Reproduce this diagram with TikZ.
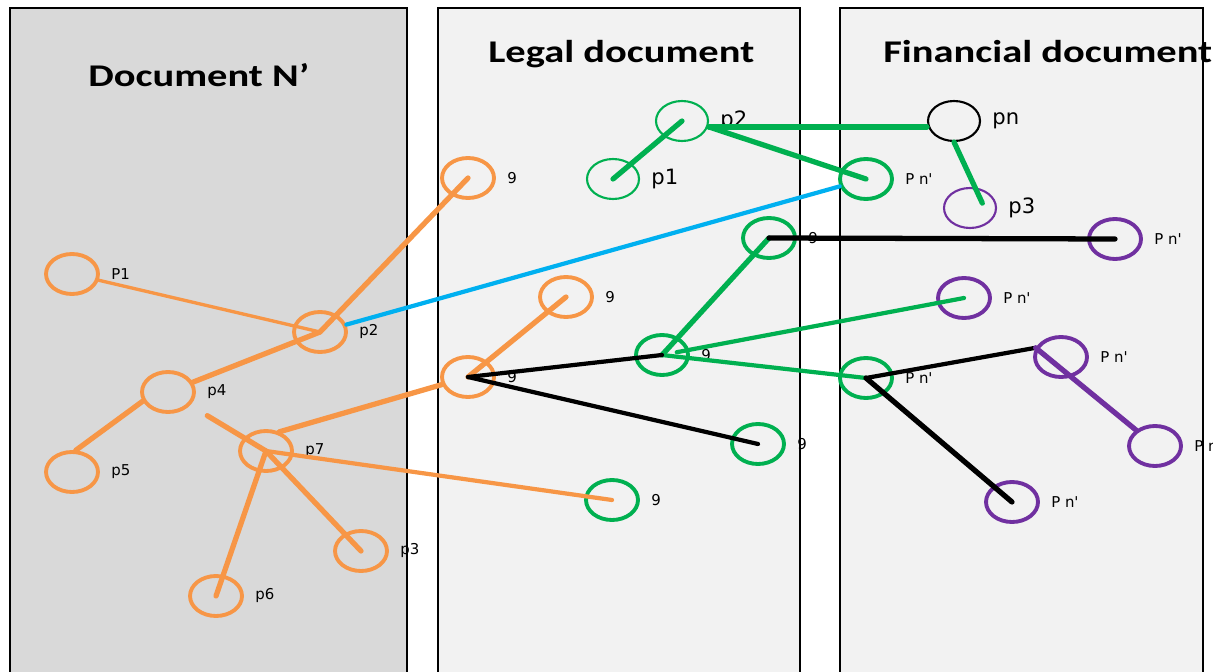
\documentclass[tikz,border=0pt]{standalone}
\usepackage{fontspec}
\setmainfont{DejaVu Sans}
\newfontfamily\titlefont{Carlito}
\usetikzlibrary{shapes.geometric}

\definecolor{orng}{RGB}{247,150,70}
\definecolor{grn}{RGB}{0,176,80}
\definecolor{blu}{RGB}{0,176,240}
\definecolor{purp}{RGB}{112,48,160}
\definecolor{panelA}{RGB}{217,217,217}
\definecolor{panelB}{RGB}{242,242,242}
\newcommand{\pnq}{P n\textquotesingle}
\newcommand{\ttltext}[1]{\scalebox{1.28}[1]{#1}}

\begin{document}
\begin{tikzpicture}[x=0.02cm, y=-0.02cm, line cap=round,
  pnl/.style={draw=black, line width=1.4pt},
  ttl/.style={font=\titlefont\bfseries\fontsize{18}{22}\selectfont, anchor=base west, inner sep=0pt},
  pnode/.style={ellipse, draw, line width=2.2pt, minimum width=1.04cm, minimum height=0.8cm, inner sep=0pt},
  thn/.style={pnode, line width=1.2pt},
  sm/.style={font=\fontsize{8.5}{10}\selectfont, text=black, inner sep=0pt},
  big/.style={font=\fontsize{12}{14}\selectfont, text=black, inner sep=0pt},
  label distance=0.22cm,
  edge1/.style={line width=1.9pt},
  edge2/.style={line width=2.4pt},
  edge3/.style={line width=3pt}]

\useasboundingbox (0,0) rectangle (1213,672);

\draw[pnl, fill=panelA] (10,8) rectangle (407,700);
\draw[pnl, fill=panelB] (438,8) rectangle (800,700);
\draw[pnl, fill=panelB] (840,8) rectangle (1203,700);

\node[ttl] (t1) at (88,87) {\ttltext{Document N’}};
\node[ttl] (t2) at (488,63) {\ttltext{Legal document}};
\node[ttl] (t3) at (883,63) {\ttltext{Financial document}};

\node[pnode, draw=orng, label={[sm]right:P1}] (a1) at (72,274) {};
\node[pnode, draw=orng, label={[sm]right:p2}] (a2) at (320,332) {};
\node[pnode, draw=orng, label={[sm]right:p4}] (a4) at (168,392) {};
\node[pnode, draw=orng, label={[sm]right:p5}] (a5) at (72,472) {};
\node[pnode, draw=orng, label={[sm]right:p7}] (a7) at (266,451) {};
\node[pnode, draw=orng, label={[sm]right:p3}] (a3) at (361,551) {};
\node[pnode, draw=orng, label={[sm]right:p6}] (a6) at (216,596) {};

\node[pnode, draw=orng, label={[sm]right:9}] (o1) at (468,178) {};
\node[pnode, draw=orng, label={[sm]right:9}] (o2) at (566,297) {};
\node[pnode, draw=orng, label={[sm]right:9}] (o3) at (468,377) {};

\node[thn, draw=grn, label={[big]right:p2}] (gp2) at (682,121) {};
\node[thn, draw=grn, label={[big]right:p1}] (gp1) at (613,179) {};
\node[pnode, draw=grn, label={[sm]right:9}] (g1) at (769,238) {};
\node[pnode, draw=grn, label={[sm]right:9}] (g2) at (662,355) {};
\node[pnode, draw=grn, label={[sm]right:9}] (g3) at (758,444) {};
\node[pnode, draw=grn, label={[sm]right:9}] (g4) at (612,500) {};

\node[thn, draw=black, label={[big]right:pn}] (pn) at (954,121) {};
\node[pnode, draw=grn, label={[sm]right:\pnq}] (f1) at (866,179) {};
\node[thn, draw=purp, label={[big]right:p3}] (fp3) at (970,208) {};
\node[pnode, draw=purp, label={[sm]right:\pnq}] (f2) at (1115,239) {};
\node[pnode, draw=purp, label={[sm]right:\pnq}] (f3) at (964,298) {};
\node[pnode, draw=grn, label={[sm]right:\pnq}] (f4) at (866,378) {};
\node[pnode, draw=purp, label={[sm]right:\pnq}] (f5) at (1061,357) {};
\node[pnode, draw=purp, label={[sm]right:\pnq}] (f6) at (1155,446) {};
\node[pnode, draw=purp, label={[sm]right:\pnq}] (f7) at (1012,502) {};

\draw[edge1, orng] (a1) -- (a2.center);
\draw[edge3, orng] (a2.center) -- (o1.center);
\draw[edge3, orng] (a2.center) -- (a4);
\draw[edge3, orng] (a4.200) -- (a5.80);
\draw[edge3, orng, shorten <=0.4cm] (a4) -- (a7.center) -- (a3.center);
\draw[edge3, orng] (a7.55) -- (o3);
\draw[edge2, orng] (a7.center) -- (g4.center);
\draw[edge3, orng] (a7.center) -- (a6.center);
\draw[edge3, orng] (o3.center) -- (o2.center);

\draw[edge2, blu] (a2) -- (f1);

\draw[edge3, grn] (gp1.center) -- (gp2.center);
\draw[edge3, grn] ([yshift=-3.4pt]gp2.east) -- ([yshift=-3.4pt]pn.west);
\draw[edge3, grn] ([yshift=-3.4pt]gp2.east) -- (f1.center);
\draw[edge3, grn] (pn.south) -- ([xshift=7pt,yshift=2.8pt]fp3.center);
\draw[edge3, grn] (g1.center) -- (g2.center);
\draw[edge2, grn, shorten <=0.3cm] (g2.center) -- (f3.center);
\draw[edge2, grn] (g2.center) -- (f4.center);

\draw[edge3] (g1.center) -- (f2.center);
\draw[edge2] (o3.center) -- (g2.center);
\draw[edge2] (o3.center) -- (g3.center);
\draw[edge2] (f4.center) -- (f5.160);
\draw[edge3] (f4.center) -- (f7.center);
\draw[edge3, purp] (f5.160) -- (f6.140);

\end{tikzpicture}
\end{document}
